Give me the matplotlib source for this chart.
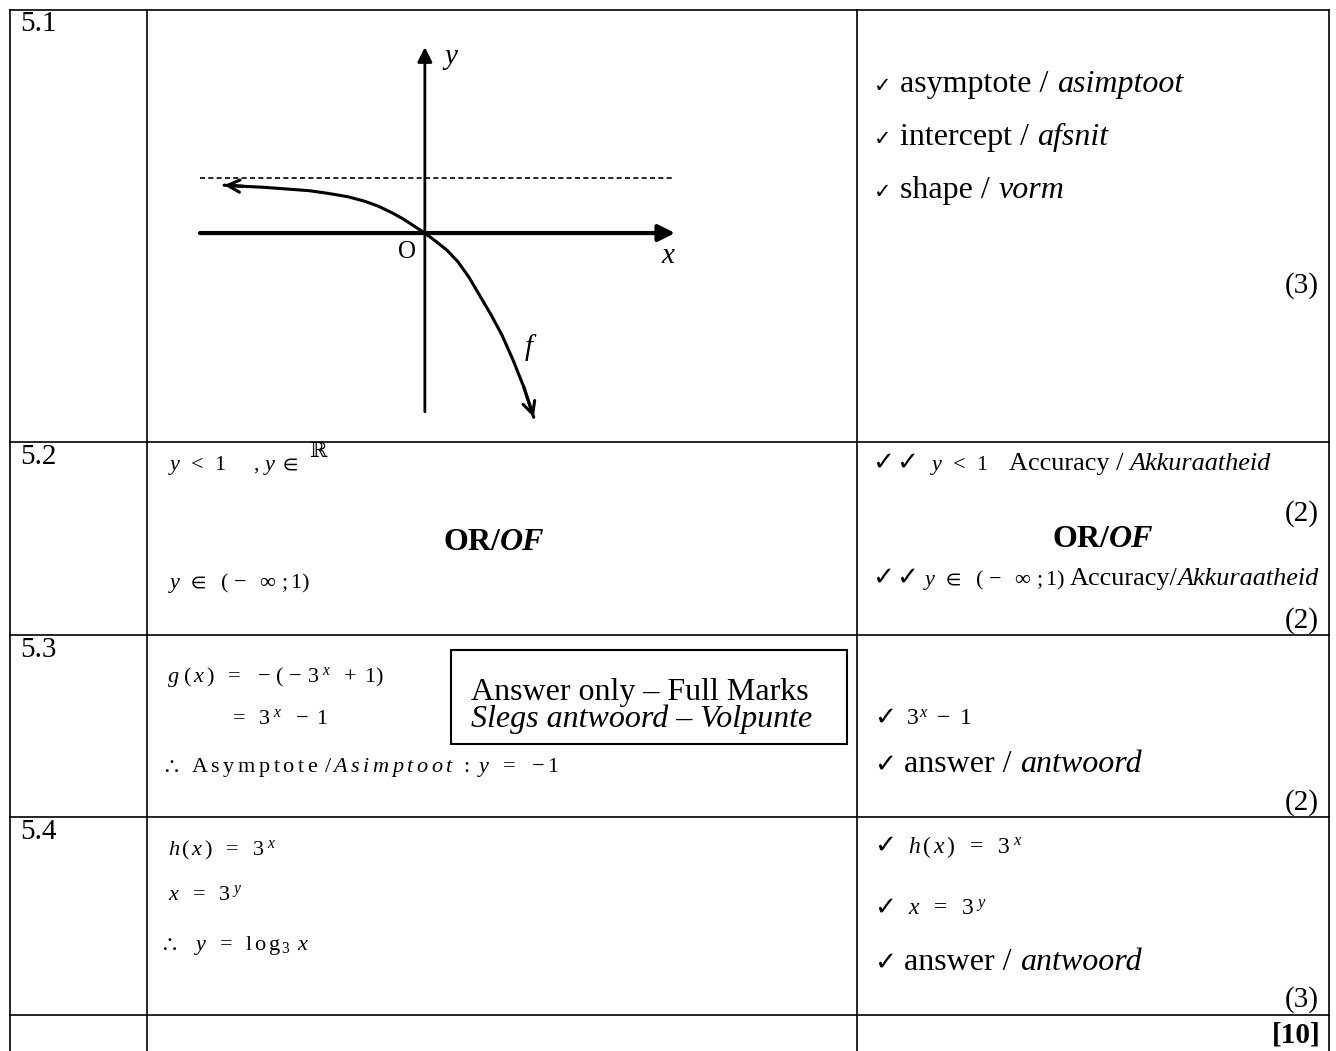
import matplotlib
matplotlib.use('Agg')
import matplotlib.pyplot as plt
from matplotlib.patches import Rectangle

plt.rcParams['mathtext.fontset'] = 'custom'
plt.rcParams['mathtext.rm'] = 'Liberation Serif'
plt.rcParams['mathtext.it'] = 'Liberation Serif:italic'
plt.rcParams['mathtext.bf'] = 'Liberation Serif:bold'
plt.rcParams['mathtext.fallback'] = 'stix'
SERIF = ['Liberation Serif', 'DejaVu Serif']

# table grid (pixels)
col_edges = [10, 147, 857, 1329]
row_edges = [10, 442, 635, 817, 1015]
row_labels = ['5.1', '5.2', '5.3', '5.4']
label_base = [31, 464, 657, 839]
marks = ['(3)', '(2)', '(2)', '(2)', '(3)']
mark_base = [293, 521, 628, 810, 1007]
total_mark = '[10]'

# sketch of f (graph units, asymptote y = 1)
curve_x = [-3.65, -3.3, -2.9, -2.5, -2.1, -1.75, -1.4, -1.1, -0.85, -0.6, -0.4, -0.2,
           0.0, 0.2, 0.4, 0.6, 0.8, 1.0, 1.2, 1.4, 1.6, 1.8, 1.98]
curve_y = [0.87, 0.85, 0.83, 0.80, 0.77, 0.72, 0.66, 0.58, 0.49, 0.37, 0.26, 0.13,
           0.0, -0.15, -0.31, -0.52, -0.80, -1.14, -1.48, -1.85, -2.3, -2.8, -3.35]
asymptote_y = 1

fig = plt.figure(figsize=(13.36, 10.51), dpi=100)
ax = fig.add_axes([0, 0, 1, 1])
ax.set_xlim(0, 1336)
ax.set_ylim(1051, 0)
ax.axis('off')
R = fig.canvas.get_renderer()

IT = {'style': 'italic'}
BF = {'weight': 'bold'}
BI = {'weight': 'bold', 'style': 'italic'}
TICK_S = ('\u2713', {'family': ['DejaVu Sans'], 'size': 15})
TICK = ('\u2713', {'family': ['DejaVu Sans'], 'size': 19})
MAIN = 23
MATH = 16
ACC = 18.9


def spaced(word, it=False):
    return '$\\math' + ('it' if it else 'rm') + '{' + '\\:'.join(word) + '}$'


def line(x, y, parts, size=MAIN, align='left'):
    # draw runs of differently styled text one after another
    texts = []
    cx = x
    for p in parts:
        if isinstance(p, (int, float)):
            cx += p
            continue
        if isinstance(p, str):
            p = (p, {})
        s, kw = p
        kw = dict(kw)
        fs = kw.pop('size', size)
        fam = kw.pop('family', SERIF)
        t = ax.text(cx, y, s, fontsize=fs, family=fam, va='baseline', ha='left', **kw)
        cx += t.get_window_extent(renderer=R).width
        texts.append(t)
    shift = {'left': 0, 'center': -(cx - x) / 2, 'right': -(cx - x)}[align]
    if shift:
        for t in texts:
            tx, ty = t.get_position()
            t.set_position((tx + shift, ty))


# grid lines
for x in col_edges:
    ax.plot([x, x], [row_edges[0], 1051], color='black', lw=1.2)
for y in row_edges:
    ax.plot([col_edges[0], col_edges[-1]], [y, y], color='black', lw=1.2)

for lab, b in zip(row_labels, label_base):
    line(20, b, [lab], size=21)
for m, b in zip(marks, mark_base):
    line(1319, b, [m], size=21, align='right')
line(1321, 1042, [(total_mark, BF)], size=21, align='right')

# 5.1 marks
line(874, 92, [TICK_S, 9, 'asymptote / ', ('asimptoot', IT)])
line(874, 145, [TICK_S, 9, 'intercept / ', ('afsnit', IT)])
line(874, 198, [TICK_S, 9, 'shape / ', ('vorm', IT)])

# 5.2
Y_LT_1 = r'$y\ \,<\ \,1$'
Y_IN = r'$y\ \,\in\ \ (\,-\ \ \infty\ ;1)$'
line(168, 470, [Y_LT_1, 26, r'$,\,y\ \in$'], size=MATH)
ax.text(310, 457, '\u211d', fontsize=15, family=['DejaVu Serif'], va='baseline')
line(494, 550, [('OR/', BF), ('OF', BI)], align='center')
line(168, 588, [Y_IN], size=MATH)
line(872, 470, [TICK, 2, TICK, 12, (Y_LT_1, {'size': MATH}), 20,
                'Accuracy / ', ('Akkuraatheid', IT)], size=ACC)
line(1103, 547, [('OR/', BF), ('OF', BI)], align='center')
line(872, 585, [TICK, 2, TICK, 5, (Y_IN, {'size': MATH}), 4,
                'Accuracy/', ('Akkuraatheid', IT)], size=ACC)

# 5.3
line(167, 682, [r'$g\ (\,x\,)\ \ =\ \ -\,(\,-\,3^{\ x}\ \ +\ 1)$'], size=MATH)
line(229, 724, [r'$=\ \ 3^{\ x}\ \ -\ 1$'], size=MATH)
line(161, 772, [r'$\therefore$', 12, spaced('Asymptote'), r'$\ /\ $', spaced('Asimptoot', True),
                r'$\ :\ y\ \ =\ \ -1$'], size=MATH)
ax.add_patch(Rectangle((451, 650), 396, 94, facecolor='none', edgecolor='black', lw=1.5))
line(471, 700, ['Answer only \u2013 Full Marks'])
line(471, 727, [('Slegs antwoord \u2013 Volpunte', IT)])
line(874, 725, [TICK, 10, (r'$3^{\,x}\ -\ 1$', {'size': 17})])
line(874, 772, [TICK, 8, 'answer / ', ('antwoord', IT)])

# 5.4
line(168, 855, [r'$h\,(\,x\,)\ \ =\ \ 3^{\ x}$'], size=MATH)
line(168, 900, [r'$x\ \ =\ \ 3^{\ y}$'], size=MATH)
line(159, 950, [r'$\therefore\ \ \ y\ \ =\ \ \mathrm{l\,o\,g}_{\,3}\ \,x$'], size=MATH)
line(874, 853, [TICK, 12, (r'$h\,(\,x\,)\ \ =\ \ 3^{\ x}$', {'size': 17})])
line(874, 915, [TICK, 12, (r'$x\ \ =\ \ 3^{\ y}$', {'size': 17})])
line(874, 970, [TICK, 8, 'answer / ', ('antwoord', IT)])

# sketch of f
gx = fig.add_axes([195 / 1336, 1 - 425 / 1051, 485 / 1336, 385 / 1051])
gx.set_xlim(-4.18, 4.64)
gx.set_ylim(-3.49, 3.51)
gx.axis('off')
gx.annotate('', xy=(4.55, 0), xytext=(-4.09, 0),
            arrowprops=dict(arrowstyle='-|>', lw=3, color='black', mutation_scale=25,
                            shrinkA=0, shrinkB=0))
gx.annotate('', xy=(0, 3.38), xytext=(0, -3.25),
            arrowprops=dict(arrowstyle='-|>', lw=2, color='black', mutation_scale=22,
                            shrinkA=0, shrinkB=0))
gx.plot([-4.09, 4.49], [asymptote_y, asymptote_y], color='black', lw=1.2, ls=(0, (3, 2)))
gx.plot(curve_x, curve_y, color='black', lw=2.2, solid_capstyle='round',
        solid_joinstyle='round')
for i, j in [(0, 1), (-1, -2)]:
    gx.annotate('', xy=(curve_x[i], curve_y[i]), xytext=(curve_x[j], curve_y[j]),
                arrowprops=dict(arrowstyle='->', lw=2.2, color='black', mutation_scale=22,
                                shrinkA=0, shrinkB=0))
gx.text(0.35, 3.2, 'y', fontsize=21, family=SERIF, style='italic', va='center')
gx.text(-0.33, -0.35, 'O', fontsize=18, family=SERIF, ha='center', va='center')
gx.text(4.42, -0.42, 'x', fontsize=21, family=SERIF, style='italic', ha='center', va='center')
gx.text(1.89, -2.09, 'f', fontsize=21, family=SERIF, style='italic', ha='center', va='center')

fig.savefig('out.png', dpi=100)
